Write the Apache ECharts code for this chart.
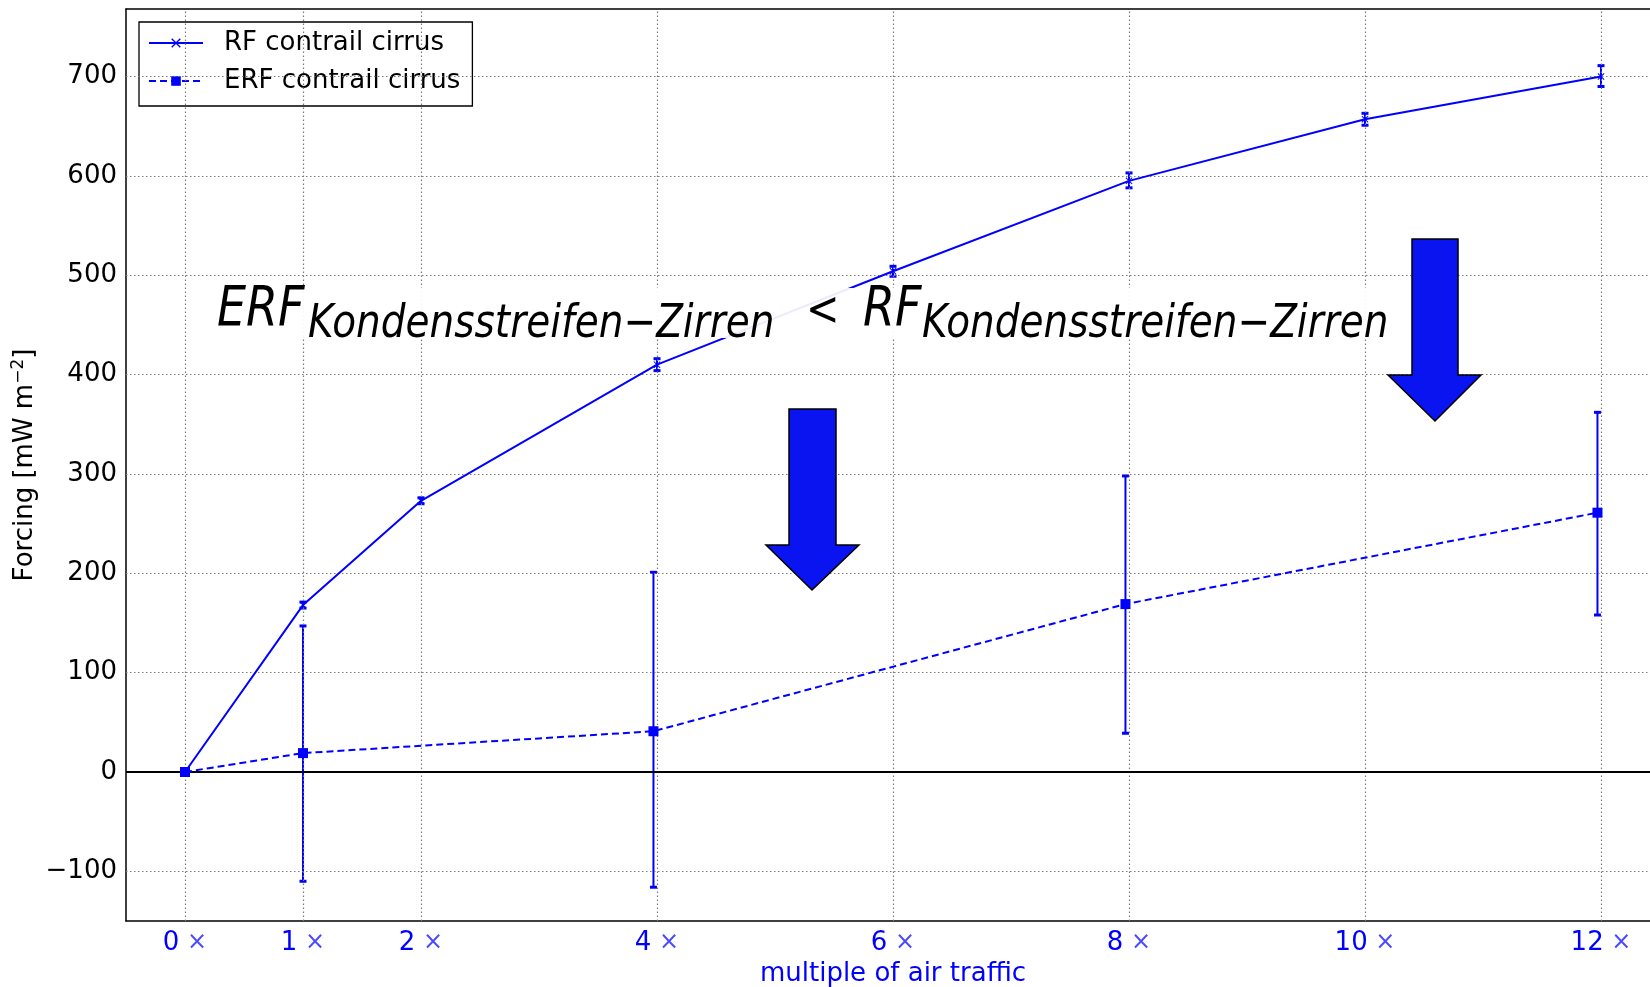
<!DOCTYPE html>
<html>
<head>
<meta charset="utf-8">
<script src="https://cdn.jsdelivr.net/npm/echarts@6/dist/echarts.min.js"></script>
<style>html,body{margin:0;padding:0;background:#fff}#c{width:1650px;height:987px}</style>
</head>
<body>
<div id="c"></div>
<script>
// ---- data ----
const xTicks = [0, 1, 2, 4, 6, 8, 10, 12];
const yTicks = [-100, 0, 100, 200, 300, 400, 500, 600, 700];
const rfX    = [0, 1, 2, 4, 6, 8, 10, 12];
const rfY    = [0, 168, 273, 410, 504, 595, 657, 700];
const rfLow  = [0, 165, 270, 404, 499, 588, 651, 690];
const rfHigh = [0, 171, 276, 416, 509, 603, 663, 711];
const erfX    = [0, 1, 3.97, 7.97, 11.97];
const erfY    = [0, 19, 41, 169, 261];
const erfLow  = [0, -110, -116, 39, 158];
const erfHigh = [0, 147, 201, 298, 362];
const seriesNames = ['RF contrail cirrus', 'ERF contrail cirrus'];

const BLUE = '#0000ff';
const FONT = 'DejaVu Sans';

const chart = echarts.init(document.getElementById('c'), null, {renderer: 'canvas'});

function errItem(params, api) {
  const x = api.value(0), lo = api.value(1), hi = api.value(2);
  if (lo === hi) return null;
  const p1 = api.coord([x, lo]), p2 = api.coord([x, hi]);
  const cw = 3.5;
  return {type: 'group', children: [
    {type: 'line', shape: {x1: p1[0], y1: p1[1], x2: p2[0], y2: p2[1]}, style: {stroke: BLUE, lineWidth: 2}},
    {type: 'rect', shape: {x: p1[0] - cw, y: p1[1] - 1.5, width: 2 * cw, height: 3}, style: {fill: BLUE}},
    {type: 'rect', shape: {x: p2[0] - cw, y: p2[1] - 1.5, width: 2 * cw, height: 3}, style: {fill: BLUE}}
  ]};
}

const xSymbol = 'path://M0,1L1,0L5,4L9,0L10,1L6,5L10,9L9,10L5,6L1,10L0,9L4,5Z';
const SY = 1.18;
function ann(text, x, y, size, italic) {
  return {type: 'text', z: 95, x: x, y: y, scaleY: SY,
    style: {text: text, fontFamily: FONT, fontStyle: italic ? 'italic' : 'normal', fontSize: size, fill: '#000', verticalAlign: 'top'}};
}

const option = {
  animation: false,
  backgroundColor: '#fff',
  textStyle: {fontFamily: FONT},
  grid: {left: 126, top: 9, right: -10, bottom: 66, show: false, containLabel: false, outerBoundsMode: 'none'},
  legend: {
    data: seriesNames,
    orient: 'vertical', left: 139, top: 22,
    backgroundColor: '#fff', borderColor: '#000', borderWidth: 1.3, borderRadius: 0,
    padding: [8, 12, 12, 9], itemGap: 12, itemWidth: 54, itemHeight: 12,
    formatter: n => '{a|' + n + '}',
    textStyle: {fontFamily: FONT, fontSize: 26, color: '#000', rich: {a: {fontFamily: FONT, fontSize: 26, color: '#000', padding: [0, 0, 0, 16]}}}
  },
  xAxis: [{
    type: 'value', min: -0.5, max: 12.5, interval: 0.5, position: 'bottom',
    axisLine: {show: true, onZero: false, lineStyle: {color: '#000', width: 1.5}}, axisTick: {show: false}, splitLine: {show: false},
    axisLabel: {
      margin: 9,
      formatter: v => xTicks.includes(Math.round(v * 100) / 100) ? '{n|' + v + '}{x| \u00d7}' : '',
      rich: {n: {fontFamily: FONT, fontSize: 26, color: BLUE}, x: {fontFamily: FONT, fontSize: 24, color: '#4a4aff'}}
    },
    name: 'multiple of air traffic', nameLocation: 'middle', nameGap: 39,
    nameTextStyle: {fontFamily: FONT, fontSize: 26, color: BLUE}
  }, {
    type: 'value', min: -0.5, max: 12.5, interval: 0.5, position: 'top',
    axisLine: {show: true, onZero: false, lineStyle: {color: '#000', width: 1.5}}, axisTick: {show: false},
    splitLine: {show: false}, axisLabel: {show: false}
  }],
  yAxis: {
    type: 'value', min: -150, max: 768, interval: 50,
    axisLine: {show: true, onZero: false, lineStyle: {color: '#000', width: 1.5}}, axisTick: {show: false}, splitLine: {show: false},
    axisLabel: {
      margin: 9, fontFamily: FONT, fontSize: 26, color: '#000',
      formatter: v => yTicks.includes(v) ? (v < 0 ? '\u2212' + Math.abs(v) : String(v)) : ''
    }
  },
  graphic: [
    {type: 'text', x: 25, y: 465, rotation: Math.PI / 2, z: 50,
      style: {text: '{a|Forcing [mW m}{s|\u22122}{a|]}', align: 'center', verticalAlign: 'middle',
        rich: {a: {fontFamily: FONT, fontSize: 26, color: '#000'}, s: {fontFamily: FONT, fontSize: 17, color: '#000', verticalAlign: 'top', padding: [0, 0, 12, 0]}}}},
    {type: 'rect', z: 90, shape: {x: 214, y: 288, width: 1184, height: 50}, style: {fill: 'rgba(255,255,255,0.92)'}},
    ann('ERF', 217, 283.6, 46, true),
    ann('Kondensstreifen\u2212Zirren', 308, 302, 39, true),
    ann('<', 806, 288.7, 40, false),
    ann('RF', 863, 283.6, 46, true),
    ann('Kondensstreifen\u2212Zirren', 922, 302, 39, true),
    {type: 'polygon', z: 96, shape: {points: [[789, 409], [836, 409], [836, 545], [859, 545], [812, 590], [766, 545], [789, 545]]},
      style: {fill: '#0a14f0', stroke: '#000', lineWidth: 1.5}},
    {type: 'polygon', z: 96, shape: {points: [[1412, 239], [1458, 239], [1458, 375], [1481, 375], [1435, 421], [1388, 375], [1412, 375]]},
      style: {fill: '#0a14f0', stroke: '#000', lineWidth: 1.5}}
  ],
  series: [
    {
      type: 'scatter', name: 'grid', data: [], symbolSize: 0, silent: true, z: 1,
      markLine: {
        silent: true, symbol: 'none', animation: false, label: {show: false},
        lineStyle: {color: '#7a7a7a', type: [1.5, 2.5], width: 1.2},
        data: xTicks.map(v => ({xAxis: v})).concat(yTicks.filter(v => v !== 0).map(v => ({yAxis: v})))
      }
    },
    {
      type: 'scatter', name: 'zero', data: [], symbolSize: 0, silent: true, z: 2,
      markLine: {
        silent: true, symbol: 'none', animation: false, label: {show: false},
        lineStyle: {color: '#000', type: 'solid', width: 2},
        data: [{yAxis: 0}]
      }
    },
    {
      type: 'custom', name: 'rfErr', z: 4, silent: true,
      data: rfX.map((x, i) => [x, rfLow[i], rfHigh[i]]),
      encode: {x: 0, y: [1, 2]}, renderItem: errItem
    },
    {
      type: 'custom', name: 'erfErr', z: 4, silent: true,
      data: erfX.map((x, i) => [x, erfLow[i], erfHigh[i]]),
      encode: {x: 0, y: [1, 2]}, renderItem: errItem
    },
    {
      type: 'line', name: seriesNames[0], z: 5,
      data: rfX.map((x, i) => [x, rfY[i]]),
      symbol: xSymbol, symbolSize: 7, showAllSymbol: true,
      itemStyle: {color: BLUE},
      lineStyle: {color: BLUE, width: 2, type: 'solid'}
    },
    {
      type: 'line', name: seriesNames[1], z: 5,
      data: erfX.map((x, i) => [x, erfY[i]]),
      symbol: 'rect', symbolSize: 10, showAllSymbol: true,
      itemStyle: {color: BLUE},
      lineStyle: {color: BLUE, width: 2, type: [7, 4]}
    }
  ]
};
chart.setOption(option);
</script>
</body>
</html>
